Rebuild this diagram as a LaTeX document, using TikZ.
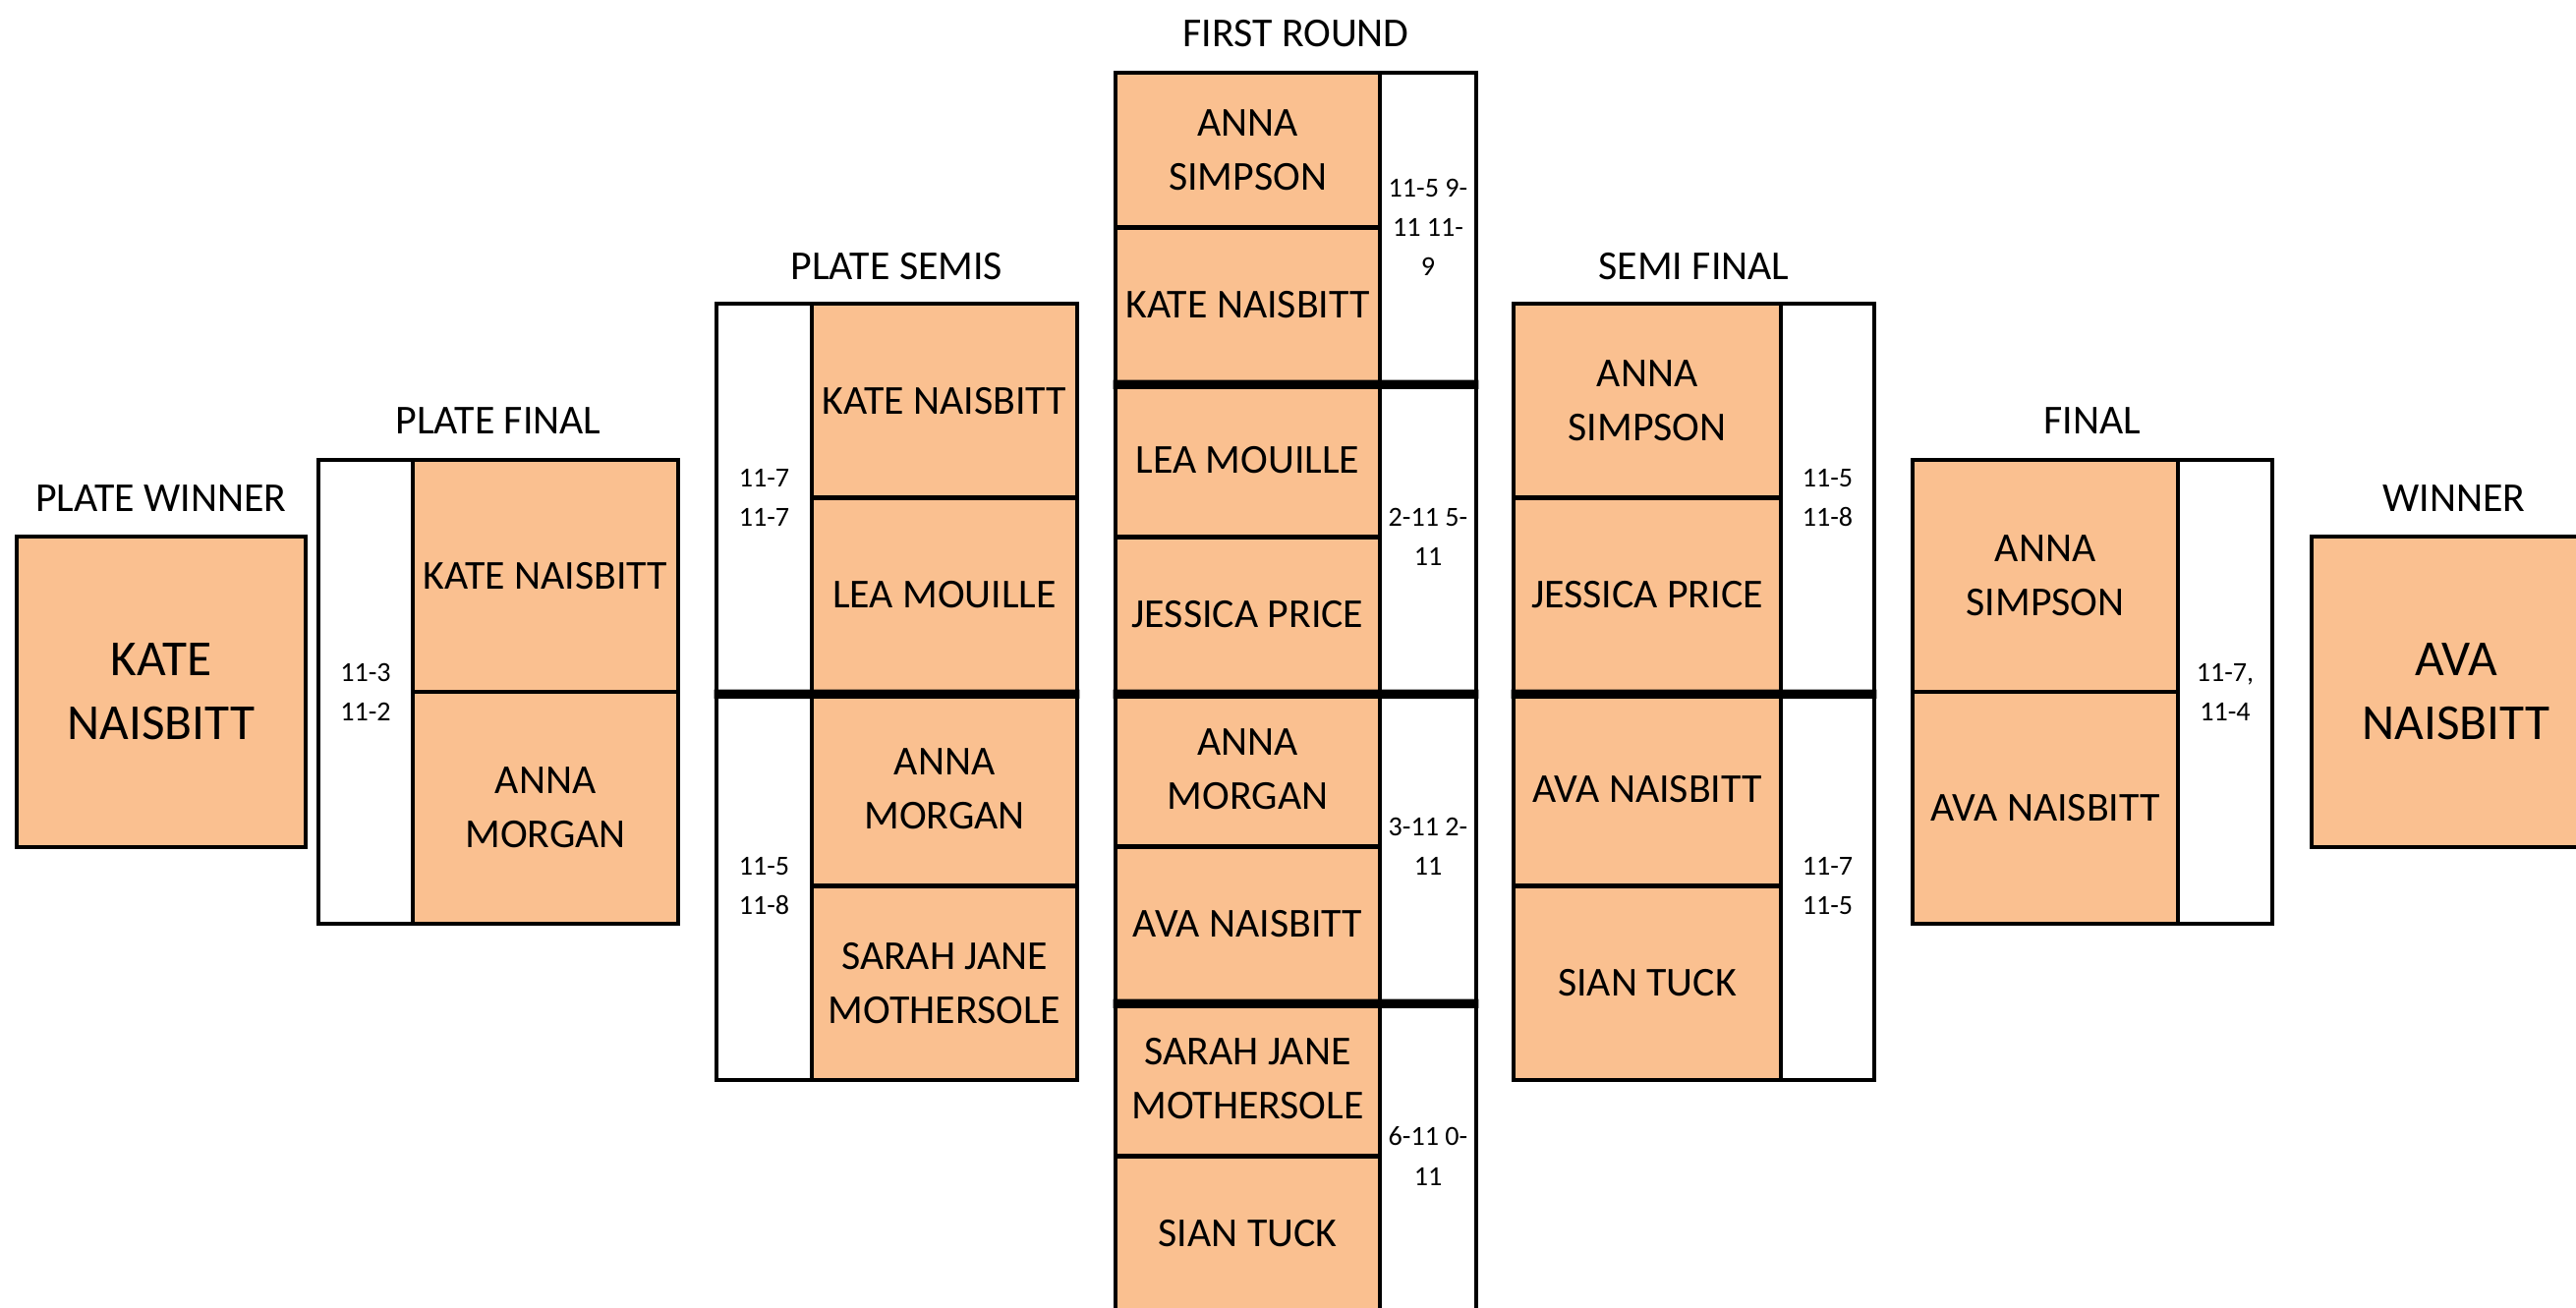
\documentclass[tikz,border=0pt]{standalone}
\usepackage{fontspec}
\setmainfont{Carlito}
\usepackage{tikz}
\definecolor{namefill}{HTML}{FAC090}
\tikzset{
	namecell/.style={
			shape=rectangle,
			draw=black,
			line width=1.3pt,
			fill=namefill,
			inner sep=0pt,
			align=center,
			font=\fontsize{11.9}{15.6}\selectfont
		},
	scorecell/.style={
			namecell,
			fill=white,
			font=\fontsize{8}{11.4}\selectfont
		},
	winnercell/.style={
			namecell,
			font=\fontsize{14.6}{18.5}\selectfont
		},
	roundtitle/.style={inner sep=0pt, font=\fontsize{11.9}{15.6}\selectfont},
	matchsep/.style={line width=2.6pt}
}

\begin{document}
\begin{tikzpicture}[x=1cm, y=-1cm]

	\path[use as bounding box, clip] (0,0) rectangle (26.21,13.31);

	% plate winner
	\node[winnercell, minimum width=2.94cm, minimum height=3.16cm] (pw) at (1.64,7.04) {KATE\\NAISBITT};
	\node[roundtitle] (pwtitle) at (1.64,5.07) {PLATE WINNER};

	% plate final
	\node[scorecell, minimum width=0.96cm, minimum height=4.72cm] (pfs) at (3.72,7.04) {11-3\\11-2};
	\node[namecell, minimum width=2.70cm, minimum height=2.36cm] (pf1) at (5.55,5.86) {KATE NAISBITT};
	\node[namecell, minimum width=2.70cm, minimum height=2.36cm] (pf2) at (5.55,8.22) {ANNA\\MORGAN};
	\node[roundtitle] (pftitle) at (5.07,4.28) {PLATE FINAL};

	% plate semis
	\node[scorecell, minimum width=0.97cm, minimum height=3.95cm] (pss1) at (7.775,5.065) {11-7\\11-7};
	\node[scorecell, minimum width=0.97cm, minimum height=3.95cm] (pss2) at (7.775,9.015) {11-5\\11-8};
	\node[namecell, minimum width=2.70cm, minimum height=1.975cm] (ps1) at (9.61,4.0775) {KATE NAISBITT};
	\node[namecell, minimum width=2.70cm, minimum height=1.975cm] (ps2) at (9.61,6.0525) {LEA MOUILLE};
	\node[namecell, minimum width=2.70cm, minimum height=1.975cm] (ps3) at (9.61,8.0275) {ANNA\\MORGAN};
	\node[namecell, minimum width=2.70cm, minimum height=1.975cm] (ps4) at (9.61,10.0025) {SARAH JANE\\MOTHERSOLE};
	\node[roundtitle] (pstitle) at (9.125,2.71) {PLATE SEMIS};

	% first round
	\node[namecell, minimum width=2.69cm, minimum height=1.575cm] (fr1) at (12.695,1.5275) {ANNA\\SIMPSON};
	\node[namecell, minimum width=2.69cm, minimum height=1.575cm] (fr2) at (12.695,3.1025) {KATE NAISBITT};
	\node[namecell, minimum width=2.69cm, minimum height=1.575cm] (fr3) at (12.695,4.6775) {LEA MOUILLE};
	\node[namecell, minimum width=2.69cm, minimum height=1.575cm] (fr4) at (12.695,6.2525) {JESSICA PRICE};
	\node[namecell, minimum width=2.69cm, minimum height=1.575cm] (fr5) at (12.695,7.8275) {ANNA\\MORGAN};
	\node[namecell, minimum width=2.69cm, minimum height=1.575cm] (fr6) at (12.695,9.4025) {AVA NAISBITT};
	\node[namecell, minimum width=2.69cm, minimum height=1.575cm] (fr7) at (12.695,10.9775) {SARAH JANE\\MOTHERSOLE};
	\node[namecell, minimum width=2.69cm, minimum height=1.575cm] (fr8) at (12.695,12.5525) {SIAN TUCK};
	\node[scorecell, minimum width=0.98cm, minimum height=3.15cm] (frs1) at (14.53,2.315) {11-5 9-\\11 11-\\9};
	\node[scorecell, minimum width=0.98cm, minimum height=3.15cm] (frs2) at (14.53,5.465) {2-11 5-\\11};
	\node[scorecell, minimum width=0.98cm, minimum height=3.15cm] (frs3) at (14.53,8.615) {3-11 2-\\11};
	\node[scorecell, minimum width=0.98cm, minimum height=3.15cm] (frs4) at (14.53,11.765) {6-11 0-\\11};
	\node[roundtitle] (frtitle) at (13.185,0.34) {FIRST ROUND};

	% semi final
	\node[namecell, minimum width=2.72cm, minimum height=1.975cm] (sf1) at (16.76,4.0775) {ANNA\\SIMPSON};
	\node[namecell, minimum width=2.72cm, minimum height=1.975cm] (sf2) at (16.76,6.0525) {JESSICA PRICE};
	\node[namecell, minimum width=2.72cm, minimum height=1.975cm] (sf3) at (16.76,8.0275) {AVA NAISBITT};
	\node[namecell, minimum width=2.72cm, minimum height=1.975cm] (sf4) at (16.76,10.0025) {SIAN TUCK};
	\node[scorecell, minimum width=0.95cm, minimum height=3.95cm] (sfs1) at (18.595,5.065) {11-5\\11-8};
	\node[scorecell, minimum width=0.95cm, minimum height=3.95cm] (sfs2) at (18.595,9.015) {11-7\\11-5};
	\node[roundtitle] (sftitle) at (17.235,2.71) {SEMI FINAL};

	% final
	\node[namecell, minimum width=2.70cm, minimum height=2.36cm] (f1) at (20.81,5.86) {ANNA\\SIMPSON};
	\node[namecell, minimum width=2.70cm, minimum height=2.36cm] (f2) at (20.81,8.22) {AVA NAISBITT};
	\node[scorecell, minimum width=0.96cm, minimum height=4.72cm] (fs) at (22.64,7.04) {11-7,\\11-4};
	\node[roundtitle] (ftitle) at (21.29,4.28) {FINAL};

	% winner
	\node[winnercell, minimum width=2.94cm, minimum height=3.16cm] (w) at (24.99,7.04) {AVA\\NAISBITT};
	\node[roundtitle] (wtitle) at (24.97,5.07) {WINNER};

	% thick lines between matches
	\draw[matchsep] (pss1.south west) -- (ps2.south east);
	\draw[matchsep] (fr2.south west) -- (frs1.south east);
	\draw[matchsep] (fr4.south west) -- (frs2.south east);
	\draw[matchsep] (fr6.south west) -- (frs3.south east);
	\draw[matchsep] (sf2.south west) -- (sfs1.south east);

\end{tikzpicture}
\end{document}
